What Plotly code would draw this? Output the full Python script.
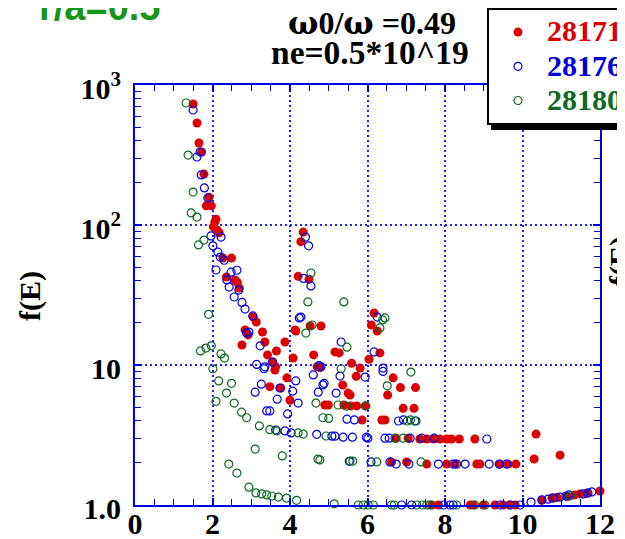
import plotly.graph_objects as go

# ---- data ----
red_x = [1.50, 1.60, 1.65, 1.72, 1.78, 1.91, 1.84, 1.97, 2.09, 2.06, 2.02, 2.12, 2.17,
         2.27, 2.49, 2.36, 2.58, 2.64, 2.69, 3.05, 3.13, 2.84, 2.92, 3.29, 2.76, 3.35,
         3.87, 3.65, 3.42, 4.13, 3.55, 4.08, 3.63, 4.34, 4.28, 4.21, 4.49, 4.15, 4.52,
         4.80, 4.61, 5.16, 5.27, 5.59, 6.17, 6.10, 6.25, 6.32, 6.04, 4.70, 5.81, 3.61,
         4.77, 5.71, 5.36, 5.50, 5.55, 3.92, 4.00, 3.76, 3.48, 4.90, 4.99, 5.39, 5.57,
         5.72, 5.94, 5.86, 6.66, 6.85, 7.24, 6.52, 6.92, 7.20, 6.37, 6.45, 6.74, 7.05,
         7.35, 7.53, 7.70, 7.87, 8.04, 8.17, 8.37, 8.77, 6.62, 7.01,
         7.53, 8.04, 8.26, 8.82, 8.90, 9.42, 9.63, 9.83, 10.35, 10.30, 10.97,
         7.66, 7.83, 8.65, 8.73, 8.99, 9.29, 9.50, 9.68, 9.81,
         10.50, 10.76, 10.89, 11.15, 11.35, 11.48, 11.66, 12.0]
red_y = [731, 535, 385, 332, 231, 158, 137, 137, 110, 105, 97, 92, 88,
         58, 58, 42.5, 40.5, 39, 35.5, 22, 20.3, 17.8, 16.4, 17.2, 13.9, 14.6,
         14.6, 12.6, 11.8, 17.8, 10.5, 11.2, 9.7, 89, 76, 43, 41, 17.5, 19,
         19, 11.8, 12.4, 12.2, 10.3, 23.5, 19.3, 17.5, 12.2, 11.0, 9.7, 9.5, 9.2,
         9.6, 8.3, 7.2, 6.3, 6.1, 8.1, 5.6, 6.85, 7.0, 5.18, 5.18, 5.18, 5.1,
         5.1, 5.1, 4.05, 8.1, 6.9, 6.9, 6.1, 4.9, 4.9, 4.05, 4.05, 3.0, 3.0,
         2.96, 2.96, 2.96, 2.96, 2.96, 2.96, 2.96, 2.96, 2.03, 2.03,
         1.96, 1.96, 1.96, 1.96, 1.96, 1.96, 1.96, 1.96, 3.21, 2.13, 2.27,
         1.0, 1.0, 1.0, 1.0, 1.0, 1.0, 1.0, 1.0, 1.0,
         1.08, 1.12, 1.13, 1.15, 1.18, 1.20, 1.21, 1.26]

blue_x = [1.50, 1.68, 1.60, 1.71, 1.79, 1.88, 1.96, 2.22, 2.01, 2.14, 2.20, 2.30, 2.09,
          2.48, 2.63, 2.37, 2.43, 2.68, 2.56, 2.76, 2.84, 3.04, 2.94, 2.88, 3.23, 3.55,
          3.14, 3.35, 3.33, 3.26, 3.10, 3.67, 3.40, 3.48, 3.94, 4.07, 4.15, 3.63, 3.87,
          4.03, 4.21, 3.74, 4.24, 4.40, 4.48, 4.35, 4.54, 4.28, 5.32, 6.17, 6.25, 4.80,
          6.40, 4.60, 4.75, 5.29, 5.94, 6.40, 4.88, 4.85, 4.73, 5.19, 5.47, 5.66, 6.80,
          6.93, 7.25, 4.69, 5.08, 5.16, 5.37, 5.61, 5.97, 6.01, 6.45, 6.56, 7.10, 7.40,
          7.72, 9.08, 5.53, 6.09, 6.58, 6.74, 7.07, 7.83, 8.21, 8.30, 8.52, 9.14, 9.40,
          9.59, 6.88, 7.14, 7.96, 8.13, 8.21, 9.42, 9.68, 9.94,
          10.22, 10.50, 10.66, 10.79, 10.97, 11.12, 11.20, 11.56, 11.69, 11.79]
blue_y = [663, 332, 306, 228, 184, 156, 83.5, 82, 71, 64, 59, 56, 47.7,
          46, 47.5, 40.5, 36, 34.3, 30.6, 28, 25.1, 22.4, 17.2, 16.9, 13.7, 10.5,
          10.1, 9.7, 9.4, 7.3, 6.4, 5.7, 4.7, 4.7, 4.47, 6.5, 7.7, 3.43, 3.38,
          3.27, 5.35, 6.85, 21.7, 82, 71, 41.5, 36.7, 22, 14.6, 12.4, 22, 9.7,
          9.5, 8.5, 9.9, 8.34, 8.2, 9.0, 7.4, 7.2, 6.4, 6.3, 4.1, 4.05, 3.98,
          4.05, 3.98, 3.2, 3.1, 3.1, 3.05, 3.05, 3.05, 3.0, 3.0, 3.0, 3.0, 3.0,
          3.0, 2.96, 2.05, 2.03, 2.03, 1.96, 1.96, 1.96, 1.96, 1.96, 1.96, 1.96, 1.96,
          1.96, 1.0, 1.0, 1.0, 1.0, 1.0, 1.0, 1.0, 1.0,
          1.05, 1.09, 1.10, 1.12, 1.14, 1.16, 1.18, 1.20, 1.22, 1.24]

green_x = [1.32, 1.37, 1.50, 1.45, 1.60, 1.78, 1.64, 1.90, 1.69, 1.83, 1.97, 2.22, 2.31,
           2.01, 2.16, 2.49, 2.36, 2.09, 2.56, 2.75, 2.88, 3.21, 3.48, 3.66, 4.21, 4.34,
           4.93, 6.71, 6.92, 3.10, 3.80, 4.72, 4.77, 5.55, 5.62, 6.24, 7.38, 2.42, 2.63,
           2.94, 3.12, 3.27, 3.40, 3.53, 3.70, 3.91, 4.17, 4.46, 5.39, 4.54, 4.57, 4.41,
           5.47, 6.45, 6.39, 6.32, 5.32, 7.12, 6.51, 4.67, 5.24, 5.46, 5.96, 4.85, 5.00,
           7.03, 7.11, 7.22, 5.14, 5.76, 5.89, 6.02, 6.15, 6.62, 6.69, 7.27, 7.42, 7.53,
           7.61, 8.30, 8.77, 9.03, 11.23]
green_y = [744, 316, 172, 122, 114, 78, 72, 23, 12.6, 13.2, 13.7, 12.0, 11.2,
           9.4, 7.7, 7.4, 6.3, 5.5, 5.35, 4.6, 4.2, 3.67, 3.45, 3.38, 3.27, 3.21,
           3.11, 3.0, 3.0, 2.51, 2.24, 2.13, 2.10, 2.06, 2.06, 2.03, 2.03, 1.96, 1.69,
           1.34, 1.22, 1.20, 1.18, 1.16, 1.14, 1.12, 1.08, 28.2, 28.2, 45.4, 19.3, 16.9,
           13.4, 21.7, 21, 18.4, 9.4, 8.9, 7.1, 5.35, 5.18, 5.09, 5.1, 4.2, 4.15,
           3.98, 4.05, 3.98, 1.02, 1.0, 1.0, 1.0, 1.0, 1.0, 1.0, 1.0, 1.0, 1.0,
           1.0, 1.0, 1.0, 1.0, 1.16]

series_names = ["28171", "28176", "28180"]
x_tickvals = [0, 2, 4, 6, 8, 10, 12]
y_tickvals = [1, 10, 100, 1000]
y_ticktext = ["1.0", "10", "10<sup>2</sup>", "10<sup>3</sup>"]
y_minor = [m * 10 ** d for d in range(0, 3) for m in range(2, 10)]

RED = "#dd0000"
BLUE = "#0000dd"
GRIDBLUE = "#2020ff"
GREEN = "#0c6a22"
SERIF = "Liberation Serif"


def legend_name(color, label):
    return ('<span style="color:%s;font-size:30px">%s</span>'
            '\u00a0\u00a0\u00a0\u00a0\u00a0\u00a0\u00a0\u00a0' % (color, label))


fig = go.Figure()
fig.add_trace(go.Scatter(
    x=red_x, y=red_y, mode="markers", cliponaxis=False,
    name=legend_name(RED, series_names[0]),
    marker=dict(symbol="circle", size=9, color=RED, line=dict(width=0))))
fig.add_trace(go.Scatter(
    x=blue_x, y=blue_y, mode="markers", cliponaxis=False,
    name=legend_name(BLUE, series_names[1]),
    marker=dict(symbol="circle-open", size=8, color=BLUE, line=dict(width=1.2, color=BLUE))))
fig.add_trace(go.Scatter(
    x=green_x, y=green_y, mode="markers", cliponaxis=False,
    name=legend_name(GREEN, series_names[2]),
    marker=dict(symbol="circle-open", size=8, color=GREEN, line=dict(width=1.2, color=GREEN))))

axis_common = dict(
    showline=True, linecolor=BLUE, linewidth=2, mirror="allticks",
    ticks="inside", tickcolor=BLUE, tickwidth=1.5, ticklen=7,
    showgrid=True, gridcolor=GRIDBLUE, griddash="2px,3px", gridwidth=1.5,
    zeroline=False,
    tickfont=dict(family=SERIF, size=30, color="black", weight="bold"),
)

fig.update_xaxes(range=[0, 12], tickvals=x_tickvals,
                 minor=dict(dtick=0.5, ticks="inside", ticklen=6, tickcolor=BLUE,
                            tickwidth=1.2, showgrid=False),
                 ticklabelstandoff=-9,
                 **axis_common)
fig.update_yaxes(type="log", range=[0, 3], tickvals=y_tickvals, ticktext=y_ticktext,
                 minor=dict(tickvals=y_minor, ticks="inside", ticklen=6, tickcolor=BLUE,
                            tickwidth=1.2, showgrid=False),
                 ticklabelstandoff=6, ticklabelshift=3,
                 **axis_common)

OMEGA = '<span style="font-family:DejaVu Serif">ω</span>'
annotations = [
    dict(text="r/a=0.5", x=-0.075, y=1.185, xref="paper", yref="paper",
         xanchor="center", yanchor="middle", showarrow=False,
         font=dict(family="Liberation Sans", size=38, color="#169616", weight="bold")),
    dict(text=OMEGA + "0/" + OMEGA + " =0.49", x=0.51, y=1.147, xref="paper", yref="paper",
         xanchor="center", yanchor="middle", showarrow=False,
         font=dict(family=SERIF, size=32, color="black", weight="bold")),
    dict(text="ne=0.5*10^19", x=0.505, y=1.078, xref="paper", yref="paper",
         xanchor="center", yanchor="middle", showarrow=False,
         font=dict(family=SERIF, size=33.5, color="black", weight="bold")),
    dict(text="f(E)", x=-0.226, y=0.4976, xref="paper", yref="paper", textangle=-90,
         xanchor="center", yanchor="middle", showarrow=False,
         font=dict(family=SERIF, size=30, color="black", weight="bold")),
    dict(text="f(E)", x=1.043, y=0.581, xref="paper", yref="paper", textangle=-90,
         xanchor="center", yanchor="middle", showarrow=False,
         font=dict(family=SERIF, size=30, color="black", weight="bold")),
]

# legend drop shadow
shapes = [dict(type="rect", xref="paper", yref="paper",
               x0=(491 - 135) / 465, x1=1.2, y0=(505 - 130) / 420, y1=(505 - 12) / 420,
               fillcolor="black", line=dict(width=0), layer="above")]

# the page has an 8px body margin, so the figure origin sits at (8, 8)
fig.update_layout(
    width=625, height=539,
    margin=dict(l=127, r=33, t=77, b=42, autoexpand=False),
    plot_bgcolor="white", paper_bgcolor="white",
    showlegend=True,
    legend=dict(x=(487 - 135) / 465, y=(505 - 125) / 420, xanchor="left", yanchor="bottom",
                bgcolor="white", bordercolor="black", borderwidth=2,
                font=dict(family=SERIF, size=24, color="black", weight="bold"),
                itemwidth=48),
    annotations=annotations,
    shapes=shapes,
)

fig.write_html("out.html")
